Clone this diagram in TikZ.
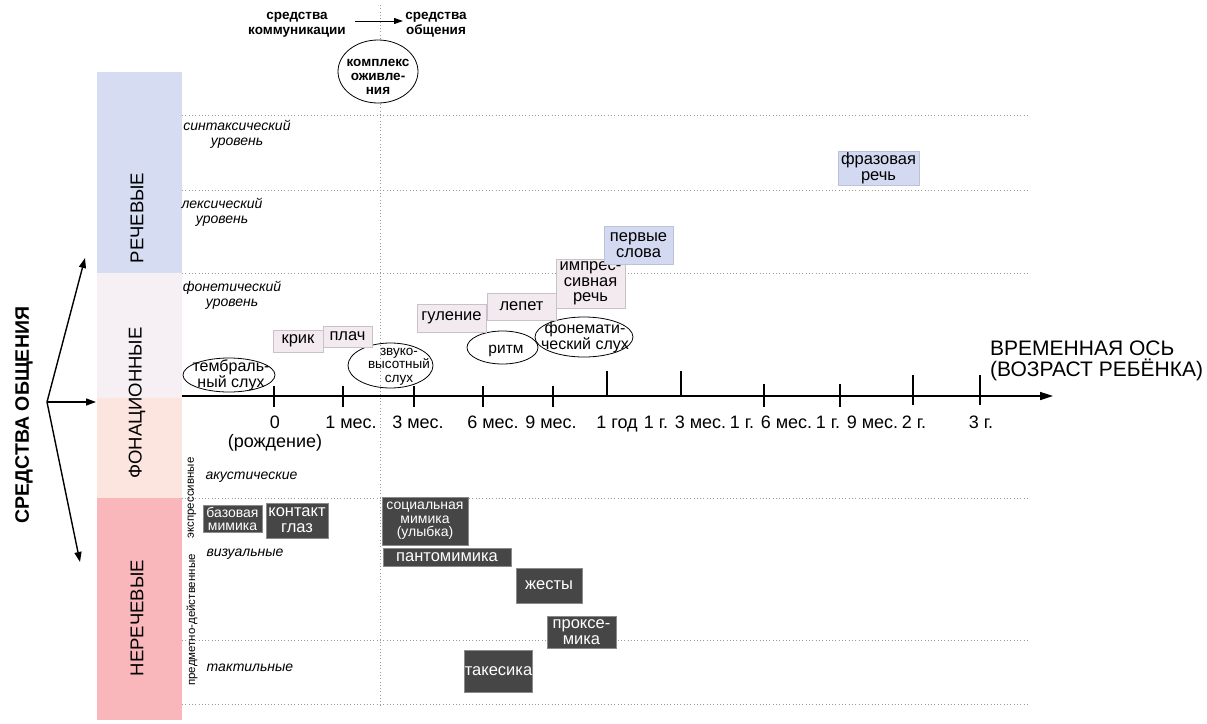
\documentclass[tikz,border=0pt]{standalone}
\usepackage{fontspec}
\setmainfont{Liberation Sans}
\usetikzlibrary{shapes.geometric,arrows.meta}
\newcommand\fsz[2]{\fontsize{#1pt}{#2pt}\selectfont}
\definecolor{bandblue}{HTML}{D6DCF2}
\definecolor{bandgrey}{HTML}{F6F0F4}
\definecolor{bandsalmon}{HTML}{FCE4DF}
\definecolor{bandpink}{HTML}{F9B7BC}
\definecolor{pinkfill}{HTML}{F3EAF0}
\definecolor{pinkborder}{HTML}{C9C1C7}
\definecolor{bluefill}{HTML}{D3D9F1}
\definecolor{blueborder}{HTML}{BCC2DA}
\definecolor{darkfill}{HTML}{464646}
\definecolor{darkborder}{HTML}{8A8A8A}
\definecolor{gridgrey}{HTML}{9A9A9A}
\begin{document}
\begin{tikzpicture}[x=1pt,y=-1pt,
  gridline/.style={draw=gridgrey, line width=0.7pt, dash pattern=on 0.7pt off 2.6pt},
  band/.style={draw=none, inner sep=0pt, anchor=north west},
  bandlabel/.style={rotate=90, font=\fsz{18.5}{20}, inner sep=0pt},
  pinkbox/.style={draw=pinkborder, fill=pinkfill, line width=0.7pt, inner sep=0pt, align=center, font=\fsz{16.5}{15.5}},
  bluebox/.style={pinkbox, draw=blueborder, fill=bluefill},
  darkbox/.style={draw=darkborder, fill=darkfill, text=white, line width=0.7pt, inner sep=0pt, align=center, font=\fsz{16.5}{16}},
  ell/.style={ellipse, draw=black, line width=0.8pt, inner sep=0pt},
  elltext/.style={align=center, inner sep=0pt},
  lvl/.style={font=\itshape\fsz{14}{15}, align=center, inner sep=0pt},
  sidelbl/.style={rotate=90, font=\fsz{11.5}{12}, inner sep=0pt},
  tickmark/.style={line width=1.3pt},
  ticklabel/.style={font=\fsz{18}{19}, align=center, anchor=north, inner sep=0pt},
  axisline/.style={line width=1.6pt, -{Triangle[length=13pt,width=8pt]}},
  sidearrow/.style={line width=1.4pt, -{Triangle[length=10pt,width=7pt]}},
  toparrow/.style={line width=1pt, -{Triangle[length=9pt,width=6pt]}},
  toptext/.style={font=\bfseries\fsz{13.5}{15}, align=center, inner sep=0pt}
]
\useasboundingbox (0,0) rectangle (1207,723);

% ---- left bands
\node[band, fill=bandblue, minimum width=85.5pt, minimum height=201pt] (bandR) at (96.5,72) {};
\node[band, fill=bandgrey, minimum width=85.5pt, minimum height=125pt] (bandF1) at (96.5,273) {};
\node[band, fill=bandsalmon, minimum width=85.5pt, minimum height=100pt] (bandF2) at (96.5,398) {};
\node[band, fill=bandpink, minimum width=85.5pt, minimum height=222pt] (bandN) at (96.5,498) {};
\node[bandlabel] (lblR) at (137,218) {РЕЧЕВЫЕ};
\node[bandlabel] (lblF) at (137,403) {ФОНАЦИОННЫЕ};
\node[bandlabel] (lblN) at (137,618) {НЕРЕЧЕВЫЕ};

% ---- main title and arrows
\node[rotate=90, font=\bfseries\fsz{19.5}{20}, inner sep=0pt] (title) at (24,415) {СРЕДСТВА ОБЩЕНИЯ};
\coordinate (src) at (47,402);
\coordinate (tipU) at (85,258);
\coordinate (tipR) at (96,402);
\coordinate (tipD) at (80,562);
\draw[sidearrow] (src) -- (tipU);
\draw[sidearrow] (src) -- (tipR);
\draw[sidearrow] (src) -- (tipD);

% ---- grid
\draw[gridline] (380,5) -- (380,705);
\foreach \yy in {115,190,273,498,640,704}
  \draw[gridline] (182,\yy) -- (1030,\yy);

% ---- level labels
\node[lvl] (synt) at (237,134.5) {синтаксический\\уровень};
\node[lvl] (lex) at (222,212.5) {лексический\\уровень};
\node[lvl] (phon) at (232,295) {фонетический\\уровень};
\node[lvl] (acu) at (251.5,477) {акустические};
\node[lvl] (vis) at (245,554) {визуальные};
\node[lvl] (tact) at (250,668) {тактильные};
\node[sidelbl] (expr) at (192,498) {экспрессивные};
\node[sidelbl] (pred) at (192,620) {предметно-действенные};

% ---- top
\node[toptext] (sk) at (297,24.5) {средства\\коммуникации};
\node[toptext] (so) at (436,24.5) {средства\\общения};
\coordinate (ta1) at (355,21);
\coordinate (ta2) at (403,21);
\draw[toparrow] (ta1) -- (ta2);
\node[ell, fill=white, minimum width=80pt, minimum height=63pt] (kompl) at (378,71.5) {};
\node[elltext, font=\bfseries\fsz{13.5}{14}] (komplt) at (378,77) {комплекс\\оживле-\\ния};

% ---- axis
\coordinate (axs) at (182,396);
\coordinate (axe) at (1053,396);
\draw[axisline] (axs) -- (axe);
\foreach \xx in {274,343,414,483,553}
  \draw[tickmark] (\xx,386) -- (\xx,407);
\foreach \xx in {607,681}
  \draw[tickmark] (\xx,371) -- (\xx,396);
\foreach \xx in {764,840}
  \draw[tickmark] (\xx,384) -- (\xx,407);
\foreach \xx in {913,980}
  \draw[tickmark] (\xx,375) -- (\xx,405);

\node[ticklabel] (t0) at (275,416) {0\\(рождение)};
\node[ticklabel] (t1) at (351,416) {1 мес.};
\node[ticklabel] (t3) at (418,416) {3 мес.};
\node[ticklabel] (t6) at (493,416) {6 мес.};
\node[ticklabel] (t9) at (551,416) {9 мес.};
\node[ticklabel] (t12) at (617,416) {1 год};
\node[ticklabel] (t15) at (685,416) {1 г. 3 мес.};
\node[ticklabel] (t18) at (771,416) {1 г. 6 мес.};
\node[ticklabel] (t21) at (857,416) {1 г. 9 мес.};
\node[ticklabel] (t24) at (914,416) {2 г.};
\node[ticklabel] (t36) at (981,416) {3 г.};
\node[font=\fsz{21}{21}, align=left, anchor=west, inner sep=0pt] (axlbl) at (990,361) {ВРЕМЕННАЯ ОСЬ\\(ВОЗРАСТ РЕБЁНКА)};

% ---- ellipses
\node[ell, minimum width=92pt, minimum height=34pt] (tembr) at (229,375) {};
\node[elltext, font=\fsz{16}{12.5}] (tembrt) at (231,375) {тембраль-\\ный слух};
\node[ell, minimum width=85pt, minimum height=45pt] (zvuk) at (390.5,365.5) {};
\node[elltext, font=\fsz{13.5}{13.5}] (zvukt) at (399,366.5) {звуко-\\высотный\\слух};
\node[ell, minimum width=71pt, minimum height=33pt] (ritm) at (502.5,347.5) {};
\node[elltext, font=\fsz{15.5}{15}] (ritmt) at (506,351) {ритм};
\node[ell, minimum width=98pt, minimum height=40pt] (fonem) at (584,337) {};
\node[elltext, font=\fsz{16}{15}] (fonemt) at (585,337.5) {фонемати-\\ческий слух};

% ---- phonation / speech boxes
\node[pinkbox, minimum width=50pt, minimum height=22pt] (krik) at (298,341) {\raisebox{-1.5pt}{крик}};
\node[pinkbox, minimum width=49pt, minimum height=21pt] (plach) at (347.5,336.5) {плач};
\node[pinkbox, minimum width=69pt, minimum height=28pt] (gul) at (451.5,318) {\raisebox{-1.5pt}{гуление}};
\node[pinkbox, minimum width=69pt, minimum height=27pt] (lepet) at (521.5,306.5) {лепет};
\node[pinkbox, minimum width=69pt, minimum height=49pt] (impr) at (590.5,283.5) {импрес-\\сивная\\речь};
\node[bluebox, minimum width=69pt, minimum height=38pt] (perv) at (638.5,245) {первые\\слова};
\node[bluebox, minimum width=81pt, minimum height=34pt] (fraz) at (878.5,168) {фразовая\\речь};

% ---- non-verbal boxes
\node[darkbox, font=\fsz{14}{13}, minimum width=59pt, minimum height=27pt] (baz) at (232.5,518.5) {базовая\\мимика};
\node[darkbox, minimum width=62pt, minimum height=35pt] (kont) at (297,520.5) {контакт\\глаз};
\node[darkbox, font=\fsz{14}{13.5}, minimum width=86pt, minimum height=48pt] (soc) at (425,521) {социальная\\мимика\\(улыбка)};
\node[darkbox, minimum width=128pt, minimum height=18pt] (pant) at (447,557) {пантомимика};
\node[darkbox, minimum width=66pt, minimum height=35pt] (zhest) at (549,585.5) {жесты};
\node[darkbox, minimum width=69pt, minimum height=32pt] (prox) at (581.5,632) {проксе-\\мика};
\node[darkbox, minimum width=67pt, minimum height=42pt] (takes) at (498.5,671) {такесика};
\end{tikzpicture}
\end{document}
